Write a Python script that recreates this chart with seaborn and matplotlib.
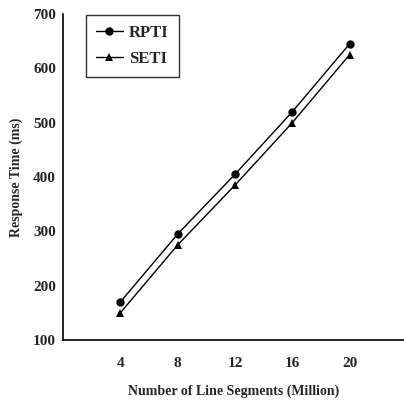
import pandas as pd
import matplotlib.pyplot as plt
import seaborn as sns

segments = [4, 8, 12, 16, 20]
rpti = [170, 295, 405, 520, 645]
seti = [150, 275, 385, 500, 625]


def main():
    sns.set_style("white")
    plt.rcParams['font.family'] = ['Liberation Serif', 'DejaVu Serif']
    plt.rcParams['font.weight'] = 'bold'

    df = pd.DataFrame({
        'segments': segments * 2,
        'time': rpti + seti,
        'method': ['RPTI'] * len(rpti) + ['SETI'] * len(seti),
    })

    fig = plt.figure(figsize=(4.04, 4.01), dpi=100)
    ax = fig.add_axes([0.156, 0.152, 0.844, 0.813])

    sns.lineplot(data=df, x='segments', y='time', hue='method', style='method',
                 markers={'RPTI': 'o', 'SETI': '^'}, dashes=False,
                 palette={'RPTI': 'black', 'SETI': 'black'},
                 linewidth=1, markersize=6, markeredgewidth=0, ax=ax)

    ax.set_xlim(0, 23.8)
    ax.set_ylim(100, 700)
    ax.set_xticks(segments)
    ax.set_yticks(range(100, 701, 100))
    ax.tick_params(axis='x', length=0, labelsize=11, pad=12)
    ax.tick_params(axis='y', length=0, labelsize=11, pad=5)
    for lbl in ax.get_xticklabels() + ax.get_yticklabels():
        lbl.set_fontweight('bold')
    sns.despine(ax=ax)
    for s in ['left', 'bottom']:
        ax.spines[s].set_color('black')
        ax.spines[s].set_linewidth(1.2)

    ax.set_xlabel("Number of Line Segments (Million)", fontsize=10, fontweight='bold', labelpad=11)
    ax.set_ylabel("Response Time (ms)", fontsize=10, fontweight='bold', labelpad=7)

    leg = ax.legend(title=None, loc='upper left', bbox_to_anchor=(0.067, 0.997),
                    borderaxespad=0, fontsize=12, frameon=True, fancybox=False,
                    handlelength=1.6, handletextpad=0.4, borderpad=0.6,
                    labelspacing=0.6)
    leg.get_frame().set_edgecolor('black')
    leg.get_frame().set_linewidth(1)

    plt.savefig("out.png", dpi=100)


if __name__ == "__main__":
    main()
